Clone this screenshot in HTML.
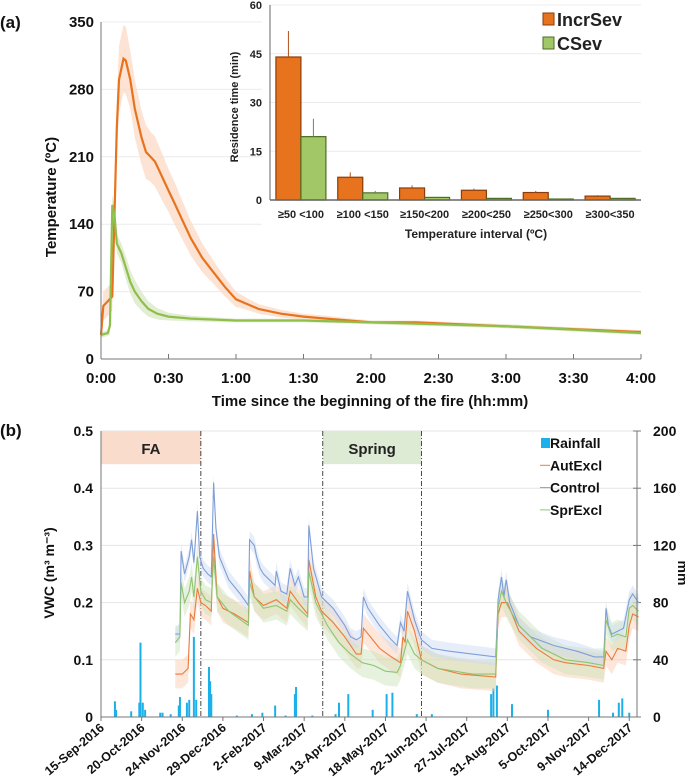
<!DOCTYPE html>
<html><head><meta charset="utf-8"><style>
body{margin:0;background:#fff;}
svg{display:block;font-family:"Liberation Sans",Arial,sans-serif;}
</style></head><body>
<svg id="chart" width="685" height="780" viewBox="0 0 685 780">
<g id="pa"></g>
<g id="pb"></g>
</svg>
<script>
// ---------- Panel A data ----------
const incrT = [0,1,3,5,6,7,8,10,11,13,15,18,20,22,24,26,28,30,33,36,40,45,50,55,60,65,70,80,90,100,120,140,160,180,200,220,240];
const incrV = [25,55,60,65,150,240,290,312,310,290,260,230,215,210,205,195,185,175,160,145,125,105,90,75,62,57,52,47,44,42,38,38,36,34,32,30,28];
const incrSd = [8,15,15,15,25,30,35,35,35,30,30,28,28,26,26,25,24,22,22,20,18,15,12,10,8,6,5,4,3,3,2,2,2,2,2,2,2];
const csevT = [0,3,4,5,6,7,9,11,13,15,18,21,25,30,40,60,90,120,180,240];
const csevV = [25,27,35,160,150,120,110,95,80,70,60,52,47,44,42,40,40,38,34,27];
const csevSd = [3,3,10,10,10,10,10,12,12,12,10,8,6,4,3,2,2,2,2,2];
const tempTicks = [0,70,140,210,280,350];
const timeTicks = ["0:00","0:30","1:00","1:30","2:00","2:30","3:00","3:30","4:00"];
const intervals = ["≥50 <100","≥100 <150","≥150<200","≥200<250","≥250<300","≥300<350"];
const resIncr = [44,7,3.7,3,2.3,1.2];
const resIncrErr = [8,1.5,0.8,0.5,0.5,0.3];
const resCsev = [19.5,2.2,0.8,0.5,0.3,0.5];
const resCsevErr = [5.5,0.6,0.2,0.1,0.1,0.1];
const resTicks = [0,15,30,45,60];
// ---------- Panel B data ----------
const dateTicks = ["15-Sep-2016","20-Oct-2016","24-Nov-2016","29-Dec-2016","2-Feb-2017","9-Mar-2017","13-Apr-2017","18-May-2017","22-Jun-2017","27-Jul-2017","31-Aug-2017","5-Oct-2017","9-Nov-2017","14-Dec-2017"];
const vwcTicks = [0,0.1,0.2,0.3,0.4,0.5];
const mmTicks = [0,40,80,120,160,200];
const ctrlD = [64,68,69,72,76,78,80,83,85,88,92,95,97,99,102,110,120,127,128,132,134,137,140,145,150,151,155,160,163,167,170,175,178,179,183,190,200,210,215,220,224,226,230,240,250,255,258,261,264,270,276,285,300,320,340,342,345,347,349,352,360,370,390,410,425,433,435,437,440,445,450,455,458,463];
const ctrlV = [0.145,0.145,0.29,0.25,0.28,0.31,0.27,0.36,0.28,0.26,0.25,0.245,0.41,0.33,0.28,0.24,0.215,0.195,0.31,0.30,0.28,0.26,0.25,0.24,0.23,0.255,0.22,0.215,0.26,0.23,0.245,0.21,0.21,0.335,0.26,0.21,0.19,0.16,0.14,0.135,0.14,0.21,0.19,0.16,0.135,0.125,0.165,0.15,0.22,0.17,0.135,0.12,0.115,0.11,0.105,0.205,0.245,0.21,0.24,0.2,0.16,0.14,0.125,0.115,0.105,0.105,0.19,0.16,0.145,0.15,0.155,0.205,0.215,0.2];
const autD = [64,70,75,77,80,83,86,90,95,97,100,105,115,127,128,132,140,151,160,163,170,178,179,185,190,200,210,220,224,226,232,240,250,258,260,262,264,270,276,290,310,340,342,345,350,360,375,390,400,420,433,435,440,445,452,455,458,463];
const autV = [0.075,0.075,0.085,0.18,0.17,0.225,0.2,0.195,0.185,0.32,0.21,0.19,0.18,0.165,0.255,0.21,0.195,0.205,0.19,0.22,0.2,0.18,0.275,0.21,0.185,0.165,0.14,0.11,0.11,0.155,0.14,0.12,0.105,0.095,0.14,0.13,0.185,0.15,0.1,0.085,0.075,0.07,0.18,0.2,0.2,0.15,0.12,0.1,0.095,0.09,0.085,0.115,0.1,0.12,0.115,0.16,0.18,0.175];
const sprD = [64,68,69,72,76,78,80,83,86,90,95,97,100,110,127,128,132,140,151,160,163,170,178,179,185,195,205,215,225,235,245,255,258,262,264,270,276,290,320,340,342,345,350,360,380,400,420,433,435,440,445,452,455,458,463];
const sprV = [0.13,0.14,0.235,0.2,0.22,0.245,0.21,0.28,0.22,0.205,0.2,0.28,0.21,0.185,0.16,0.235,0.21,0.19,0.195,0.185,0.205,0.19,0.175,0.255,0.2,0.16,0.13,0.11,0.095,0.09,0.08,0.078,0.09,0.12,0.135,0.11,0.1,0.085,0.075,0.075,0.19,0.22,0.195,0.16,0.12,0.1,0.095,0.09,0.17,0.14,0.145,0.14,0.19,0.195,0.185];
const rainD = [12,13,26,33,34,36,38,51,53,60,67,68,74,76,80,82,93,94,95,117,130,139,150,159,167,168,182,202,205,213,234,246,251,272,285,336,338,341,354,385,429,441,446,449,455];
const rainMm = [11,5,4,10,52,10,5,3,3,2,8,14,10,12,56,12,35,25,16,1,2,3,8,1,16,21,1,2,10,16,5,16,17,2,2,16,20,22,9,5,12,3,10,13,3];
const faRange = [0,86];
const springRange = [191,276];

const NS="http://www.w3.org/2000/svg";
function mk(parent,tag,attrs,name,text){const e=document.createElementNS(NS,tag);for(const k in attrs)e.setAttribute(k,attrs[k]);


if(text!==undefined)e.textContent=text;parent.appendChild(e);return e;}
function linePath(xs,ys,fx,fy){return xs.map((x,i)=>(i?'L':'M')+fx(x).toFixed(1)+','+fy(ys[i]).toFixed(1)).join('');}
function bandPath(xs,lo,hi,fx,fy){let d=xs.map((x,i)=>(i?'L':'M')+fx(x).toFixed(1)+','+fy(hi[i]).toFixed(1)).join('');
for(let i=xs.length-1;i>=0;i--)d+='L'+fx(xs[i]).toFixed(1)+','+fy(lo[i]).toFixed(1);return d+'Z';}

// ---------- Panel A ----------
const A=document.getElementById('pa');
const ax0=101,ax1=641,ay0=359,ay1=22;
const tx=t=>ax0+t*(ax1-ax0)/240, ty=v=>ay0-v*(ay0-ay1)/350;
tempTicks.forEach(v=>{ if(v>0) mk(A,'line',{x1:ax0,x2:ax1,y1:ty(v),y2:ty(v),stroke:'#ececec','stroke-width':1},'gridline');
 mk(A,'text',{x:ax0-7,y:ty(v)+5,'text-anchor':'end','font-size':15,'font-weight':'bold',fill:'#111'},'y-tick-label',v);});
mk(A,'rect',{x:262,y:0,width:390,height:245,fill:'#fff'},'inset-background');
mk(A,'path',{d:bandPath(incrT,incrV.map((v,i)=>v-incrSd[i]),incrV.map((v,i)=>v+incrSd[i]),tx,ty),fill:'#fbd9c4',opacity:0.75},'incrsev-band');
mk(A,'path',{d:bandPath(csevT,csevV.map((v,i)=>v-csevSd[i]),csevV.map((v,i)=>v+csevSd[i]),tx,ty),fill:'#dce9c8',opacity:0.8},'csev-band');
mk(A,'path',{d:linePath(incrT,incrV,tx,ty),fill:'none',stroke:'#e8731e','stroke-width':2.2},'incrsev-line');
mk(A,'path',{d:linePath(csevT,csevV,tx,ty),fill:'none',stroke:'#8fbf4a','stroke-width':2.2},'csev-line');
mk(A,'line',{x1:ax0,x2:ax0,y1:ay1,y2:ay0,stroke:'#777'},'y-axis');
mk(A,'line',{x1:ax0,x2:ax1,y1:ay0,y2:ay0,stroke:'#777'},'x-axis');
timeTicks.forEach((l,i)=>{const x=tx(i*30);mk(A,'line',{x1:x,x2:x,y1:ay0,y2:ay0-5,stroke:'#777'},'x-tick');
 mk(A,'text',{x:x,y:383,'text-anchor':'middle','font-size':15,'font-weight':'bold',fill:'#111'},'x-tick-label',l);});
mk(A,'text',{x:370,y:406,'text-anchor':'middle','font-size':15,'font-weight':'bold',fill:'#111'},'x-axis-title','Time since the beginning of the fire (hh:mm)');
mk(A,'text',{x:0,y:0,transform:'translate(56,197) rotate(-90)','text-anchor':'middle','font-size':15,'font-weight':'bold',fill:'#111'},'y-axis-title','Temperature (ºC)');
mk(A,'text',{x:0,y:28,'font-size':17,'font-weight':'bold',fill:'#111'},'panel-label-a','(a)');
// inset
const ix0=270,ix1=641,iy0=200,iy1=5;
const iy=v=>iy0-v*(iy0-iy1)/60, gw=(ix1-ix0)/6;
resTicks.forEach(v=>{ if(v>0) mk(A,'line',{x1:ix0,x2:ix1,y1:iy(v),y2:iy(v),stroke:'#ececec'},'inset-gridline');
 mk(A,'text',{x:ix0-8,y:iy(v)+4,'text-anchor':'end','font-size':11,'font-weight':'bold',fill:'#222'},'inset-y-tick-label',v);});
intervals.forEach((lab,i)=>{const cx=ix0+gw*(i+0.5),bw=25;
 const b1=mk(A,'rect',{x:cx-bw,y:iy(resIncr[i]),width:bw,height:iy0-iy(resIncr[i]),fill:'#e8731e',stroke:'#8a3d0a','stroke-width':1.2},'bar-incrsev');
 const b2=mk(A,'rect',{x:cx,y:iy(resCsev[i]),width:bw,height:iy0-iy(resCsev[i]),fill:'#a2c766',stroke:'#4f6e24','stroke-width':1.2},'bar-csev');
 mk(A,'line',{x1:cx-bw/2,x2:cx-bw/2,y1:iy(resIncr[i]),y2:iy(resIncr[i]+resIncrErr[i]),stroke:'#b0501a','stroke-width':1},'error-bar');
 mk(A,'line',{x1:cx+bw/2,x2:cx+bw/2,y1:iy(resCsev[i]),y2:iy(resCsev[i]+resCsevErr[i]),stroke:'#6c8c3a','stroke-width':1},'error-bar');
 mk(A,'text',{x:cx,y:218,'text-anchor':'middle','font-size':11,'font-weight':'bold',fill:'#222'},'inset-x-tick-label',lab);});
mk(A,'line',{x1:ix0,x2:ix0,y1:iy1,y2:iy0,stroke:'#666'},'inset-y-axis');
mk(A,'line',{x1:ix0,x2:ix1,y1:iy0,y2:iy0,stroke:'#666','stroke-width':1.5},'inset-x-axis');
mk(A,'text',{x:476,y:238,'text-anchor':'middle','font-size':12,'font-weight':'bold',fill:'#222'},'inset-x-axis-title','Temperature interval (ºC)');
mk(A,'text',{x:0,y:0,transform:'translate(238,107) rotate(-90)','text-anchor':'middle','font-size':11,'font-weight':'bold',fill:'#222'},'inset-y-axis-title','Residence time (min)');
mk(A,'rect',{x:543,y:13,width:11,height:12,fill:'#e8731e',stroke:'#8a3d0a'},'legend-swatch-incrsev');
mk(A,'text',{x:557,y:26,'font-size':18,'font-weight':'bold',fill:'#222'},'legend-incrsev','IncrSev');
mk(A,'rect',{x:543,y:37,width:11,height:12,fill:'#a2c766',stroke:'#4f6e24'},'legend-swatch-csev');
mk(A,'text',{x:557,y:50,'font-size':18,'font-weight':'bold',fill:'#222'},'legend-csev','CSev');

// ---------- Panel B ----------
const B=document.getElementById('pb');
const bx0=101,bx1=637,by0=717,by1=431;
const dx=d=>bx0+d*1.161, vy=v=>by0-v*(by0-by1)/0.5, ry=m=>by0-m*(by0-by1)/200;
mk(B,'rect',{x:dx(faRange[0]),y:by1,width:dx(faRange[1])-dx(faRange[0]),height:vy(0.442)-by1,fill:'#f9dccb'},'fa-period');
mk(B,'rect',{x:dx(springRange[0]),y:by1,width:dx(springRange[1])-dx(springRange[0]),height:vy(0.442)-by1,fill:'#deebd4'},'spring-period');
mk(B,'text',{x:(dx(faRange[0])+dx(faRange[1]))/2,y:454,'text-anchor':'middle','font-size':15,'font-weight':'bold',fill:'#222'},'fa-label','FA');
mk(B,'text',{x:(dx(springRange[0])+dx(springRange[1]))/2,y:454,'text-anchor':'middle','font-size':15,'font-weight':'bold',fill:'#222'},'spring-label','Spring');
vwcTicks.forEach((v,i)=>{ if(v>0) mk(B,'line',{x1:bx0,x2:bx1,y1:vy(v),y2:vy(v),stroke:'#e6e6e6'},'gridline');
 mk(B,'text',{x:bx0-8,y:vy(v)+5,'text-anchor':'end','font-size':14,'font-weight':'bold',fill:'#111'},'left-tick-label',v);
 mk(B,'text',{x:bx1+16,y:ry(mmTicks[i])+5,'font-size':14,'font-weight':'bold',fill:'#111'},'right-tick-label',mmTicks[i]);
 mk(B,'line',{x1:bx1-4,x2:bx1+4,y1:ry(mmTicks[i]),y2:ry(mmTicks[i]),stroke:'#777'},'right-tick');});
[faRange[1],springRange[0],springRange[1]].forEach(d=>mk(B,'line',{x1:dx(d),x2:dx(d),y1:by1,y2:by0,stroke:'#333','stroke-dasharray':'5,2,1,2','stroke-width':0.9},'period-divider'));
rainD.forEach((d,i)=>mk(B,'rect',{x:dx(d)-1,y:ry(rainMm[i]),width:2,height:by0-ry(rainMm[i]),fill:'#1cb0ea'},'rain-bar'));
function band(D,V,w,col,nm){mk(B,'path',{d:bandPath(D,V.map(v=>v-w),V.map(v=>v+w),dx,vy),fill:col,opacity:0.45},nm);}
band(autD,autV,0.025,'#f8c9ae','autexcl-band');
band(sprD,sprV,0.025,'#c9e2b6','sprexcl-band');
band(ctrlD,ctrlV,0.015,'#c9d9f2','control-band');
mk(B,'path',{d:linePath(autD,autV,dx,vy),fill:'none',stroke:'#ec7a3a','stroke-width':1.1},'autexcl-line');
mk(B,'path',{d:linePath(ctrlD,ctrlV,dx,vy),fill:'none',stroke:'#7f9ed8','stroke-width':1.1},'control-line');
mk(B,'path',{d:linePath(sprD,sprV,dx,vy),fill:'none',stroke:'#8fc472','stroke-width':1.1},'sprexcl-line');
mk(B,'line',{x1:bx0,x2:bx0,y1:by1,y2:by0,stroke:'#777'},'left-axis');
mk(B,'line',{x1:bx1,x2:bx1,y1:by1,y2:by0,stroke:'#777'},'right-axis');
mk(B,'line',{x1:bx0,x2:bx1,y1:by0,y2:by0,stroke:'#777'},'x-axis');
dateTicks.forEach((l,i)=>{const x=dx(i*35);mk(B,'line',{x1:x,x2:x,y1:by0,y2:by0+4,stroke:'#777'},'x-tick');
 mk(B,'text',{x:0,y:0,transform:`translate(${x+4},${by0+12}) rotate(-40)`,'text-anchor':'end','font-size':12.5,'font-weight':'bold',fill:'#111'},'date-tick-label',l);});
mk(B,'text',{x:0,y:0,transform:'translate(54,573) rotate(-90)','text-anchor':'middle','font-size':14,'font-weight':'bold',fill:'#111'},'left-axis-title','VWC (m³ m⁻³)');
mk(B,'text',{x:0,y:0,transform:'translate(678,573) rotate(90)','text-anchor':'middle','font-size':14,'font-weight':'bold',fill:'#111'},'right-axis-title','mm');
mk(B,'text',{x:0,y:436,'font-size':17,'font-weight':'bold',fill:'#111'},'panel-label-b','(b)');
mk(B,'rect',{x:541,y:438,width:9,height:10,fill:'#1cb0ea'},'legend-swatch-rainfall');
const legs=[['Rainfall',null],['AutExcl','#ec7a3a'],['Control','#7f9ed8'],['SprExcl','#8fc472']];
legs.forEach((L,i)=>{const y=448+i*22.3; if(L[1]) mk(B,'line',{x1:540,x2:550,y1:y-5,y2:y-5,stroke:L[1]},'legend-line');
 mk(B,'text',{x:550,y:y,'font-size':14,'font-weight':'bold',fill:'#111'},'legend-'+L[0].toLowerCase(),L[0]);});
</script>
</body></html>
